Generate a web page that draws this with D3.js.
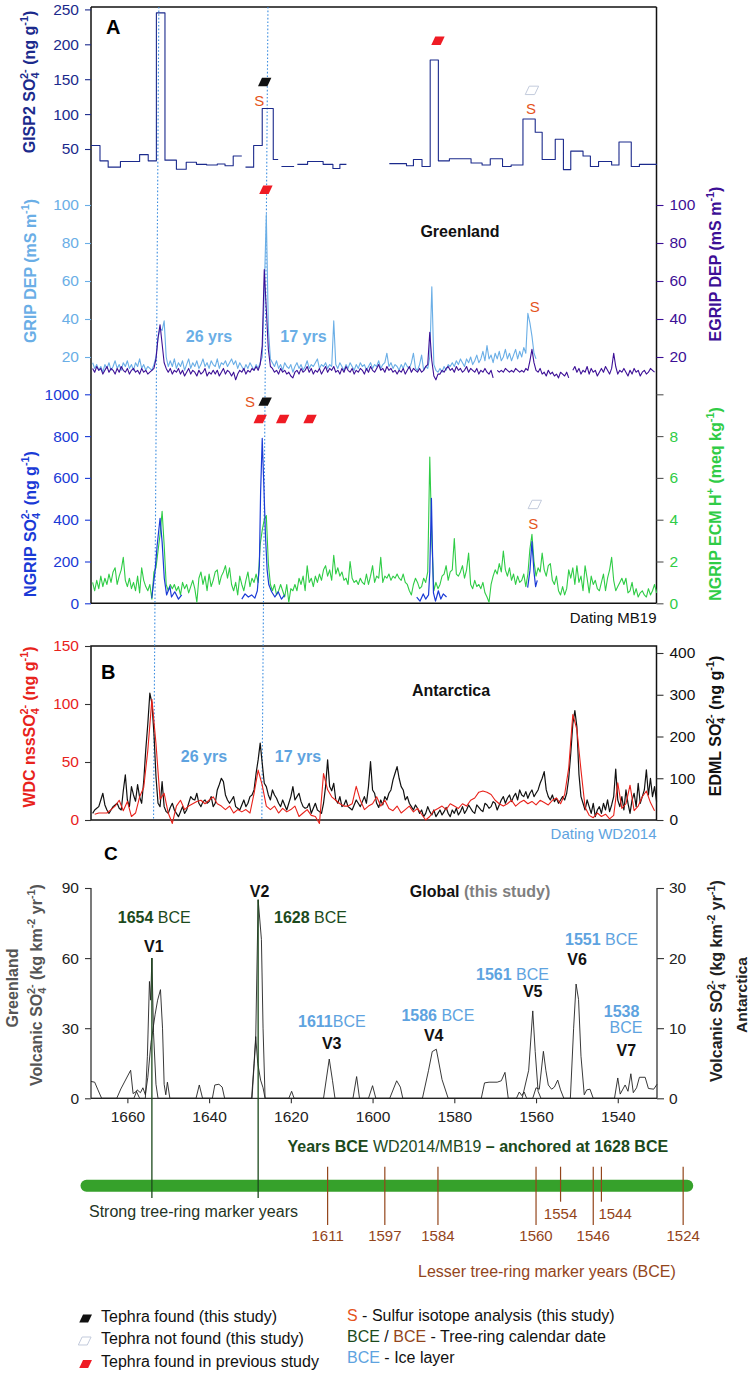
<!DOCTYPE html>
<html>
<head>
<meta charset="utf-8">
<script src="https://cdn.jsdelivr.net/npm/d3@7/dist/d3.min.js"></script>
<style>
html,body{margin:0;padding:0;background:#fff;}
svg{display:block;}
text{white-space:pre;}
</style>
</head>
<body>
<svg id="chart" width="751" height="1373" xmlns="http://www.w3.org/2000/svg"></svg>
<script>
// ================= DATA =================
const xTicksC = [1660,1640,1620,1600,1580,1560,1540];
const gisp2Ticks = [50,100,150,200,250];
const depTicks = [20,40,60,80,100];
const ngripTicks = [0,200,400,600,800,1000];
const ecmTicks = [0,2,4,6,8,10];
const ecmLabels = ["0","2","4","6","8",""];
const wdcTicks = [0,50,100,150];
const edmlTicks = [0,100,200,300,400];
const cLeftTicks = [0,30,60,90];
const cRightTicks = [0,10,20,30];

// GISP2 SO4 step bins: [startYear, endYear, value]; null = gap
const gisp2Bins = [
 [1668.9,1666.7,55],[1666.7,1664.7,33],[1664.7,1661.7,24],[1661.7,1657.0,32],[1657.0,1654.9,42],
 [1654.9,1652.9,33],[1652.9,1650.8,245],[1650.8,1648.0,34],[1648.0,1645.6,21],[1645.6,1643.1,31],
 [1643.1,1640.6,28],[1640.6,1638.0,27],[1638.0,1636.1,28.5],[1636.1,1634.1,26],[1634.1,1632.0,40],
 null,
 [1631.1,1629.1,24],[1629.1,1627.0,55],[1627.0,1624.3,108],[1624.3,1623.1,35],
 null,
 [1622.3,1619.2,25],
 null,
 [1618.4,1615.9,28],[1615.9,1612.1,32],[1612.1,1609.7,28],[1609.7,1608.0,22],[1608.0,1606.4,28],
 null,
 [1595.9,1591.7,29],[1591.7,1590.0,26],[1590.0,1587.9,35],[1587.9,1585.9,25],[1585.9,1583.9,177.5],
 [1583.9,1581.2,33],[1581.2,1575.9,36],[1575.9,1573.2,30],[1573.2,1571.2,27],[1571.2,1568.2,36],
 [1568.2,1566.1,25],[1566.1,1563.2,27],[1563.2,1560.2,93],[1560.2,1558.5,74],[1558.5,1555.3,35],
 [1555.3,1553.3,64],[1553.3,1551.5,20.5],[1551.5,1548.5,47],[1548.5,1546.7,40],[1546.7,1544.7,25],
 [1544.7,1541.5,32],[1541.5,1539.7,27],[1539.7,1536.7,60],[1536.7,1534.7,25],[1534.7,1530.4,28]
];

// half-year series, first value at 1668.5, stepping back 0.5 yr
const depStart = 1668.5, depStep = 0.5;
const gripDEP = [
 17,14,16,13,15,12,16,14,17,13,
 15,18,14,16,13,17,15,18,14,16,
 13,17,15,19,14,16,13,15,14,13,
 16,20,30,35,34,39,20,15,18,15,
 19,14,17,15,18,13,16,19,14,17,
 15,18,14,16,19,15,17,14,18,16,
 15,19,14,17,16,18,15,17,19,16,
 18,14,17,15,13,16,14,17,15,13,
 16,14,17,20,55,95,35,19,17,15,
 18,14,16,13,17,15,14,16,12,15,
 17,14,16,13,15,18,14,16,15,17,
 19,14,16,15,17,14,16,15,39,16,
 14,17,15,13,16,14,17,15,13,16,
 14,17,15,16,13,15,17,14,16,15,
 18,14,16,17,22,15,17,14,16,15,
 13,16,14,17,15,14,17,22,14,13,
 16,21,13,15,14,20,57,16,13,12,
 14,12,15,13,16,15,17,15,18,16,
 19,17,15,19,17,20,16,18,21,17,
 19,23,18,26,19,21,17,22,19,23,
 18,20,24,19,22,18,21,24,19,23,
 20,25,22,43,38,31,22,19
];
const egripDEP = [
 14,12,15,13,14,11,13,15,12,14,
 13,11,14,12,15,13,12,14,11,13,
 14,12,13,11,14,12,13,11,12,13,
 14,19,30,37,27,17,14,12,14,11,
 13,12,14,11,13,10,12,14,11,13,
 12,10,13,11,12,14,10,12,11,13,
 11,13,10,12,14,11,13,12,10,12,
 8,11,13,12,14,11,13,12,14,13,
 15,13,16,26,66,45,24,15,14,12,
 13,11,14,12,13,11,12,10,9,12,
 13,11,14,12,13,15,12,14,11,13,
 12,14,11,13,15,12,14,13,15,12,
 13,11,14,12,15,13,12,14,11,13,
 12,14,13,11,14,12,15,13,12,14,
 16,13,14,12,15,13,14,12,13,11,
 13,12,14,11,13,15,12,14,13,12,
 14,12,13,15,16,33,18,10,8,11,
 11,13,12,14,15,13,14,12,15,13,
 14,12,13,15,12,14,13,12,14,11,
 13,12,14,12,11,13,9,null,13,12,
 13,12,14,13,12,13,12,14,13,12,
 13,12,14,13,18,24,17,13,12,14,
 11,12,10,13,11,12,10,11,9,12,
 11,10,12,9,null,13,15,12,14,11,
 13,12,15,11,14,12,13,10,12,14,
 12,15,13,11,14,22,15,11,13,12,
 14,12,10,13,11,14,12,13,10,12,
 13,11,12,14,13,12
];
const ecmH = [
 1.0,0.6,1.1,0.7,1.3,0.8,1.2,0.9,1.4,1.0,
 1.5,1.7,0.9,1.3,1.6,2.2,1.1,0.8,1.2,0.7,
 1.0,0.6,1.3,0.5,1.7,1.1,0.8,0.6,0.9,0.2,
 1.5,1.7,2.5,3.3,4.4,2.8,0.9,0.6,0.9,0.7,
 0.9,0.6,0.8,0.4,1.0,0.7,0.9,0.5,0.8,1.1,
 0.7,0.05,1.2,1.5,0.9,1.3,0.6,1.4,0.8,1.1,
 1.5,1.6,0.9,1.3,1.5,1.8,1.2,1.7,0.9,0.6,
 1.0,0.4,1.3,0.9,0.6,1.1,1.5,0.8,1.2,1.0,
 1.4,1.0,2.8,3.5,4.0,4.2,1.9,0.9,0.6,0.9,
 0.4,0.6,0.9,0.6,0.3,0.9,0.05,0.7,0.6,0.9,
 0.6,1.2,0.9,1.3,0.6,1.8,1.0,1.2,0.8,1.3,
 1.0,1.4,1.1,1.6,1.8,1.3,1.6,1.1,2.3,1.4,
 1.7,1.3,1.5,1.1,1.2,0.9,2.0,1.2,1.0,1.1,
 0.9,1.2,1.0,0.9,1.4,0.9,1.3,1.8,1.0,1.3,
 1.2,2.2,1.0,1.3,1.2,1.4,1.1,1.3,1.2,1.4,
 1.2,1.1,1.4,1.0,0.9,0.6,0.4,0.9,1.2,1.0,
 0.7,0.8,1.2,1.0,1.5,7.0,3.0,0.6,1.0,0.7,
 0.9,1.3,1.4,1.8,1.1,1.5,1.6,3.1,1.4,1.3,
 1.5,1.8,1.2,1.6,2.4,0.9,0.7,1.1,0.8,0.9,
 0.7,1.0,0.5,0.3,0.05,0.9,1.3,1.6,1.4,1.9,
 1.5,2.5,1.6,1.3,1.7,1.1,1.4,0.9,1.3,1.0,
 1.1,1.4,0.8,1.4,2.6,3.3,2.0,1.3,1.7,1.5,
 2.4,1.6,1.3,1.8,1.9,1.1,0.9,1.3,0.6,0.4,
 0.8,0.4,0.7,1.6,1.2,1.7,0.9,1.8,1.0,1.3,
 0.6,1.8,1.2,0.5,1.3,0.9,1.1,0.7,0.6,1.0,
 1.4,0.6,1.2,1.6,2.2,1.1,0.6,0.8,1.0,1.2,
 0.9,1.2,0.5,0.6,1.0,0.4,0.7,0.3,0.5,0.6,
 0.4,0.3,0.7,0.4,0.6,0.9,0.5
];
// NGRIP SO4 (irregular, short sections): [year, value]; null = gap
const ngripSO4 = [
 [1654.05,24],[1653.24,151],[1652.7,279],[1652.0,407],[1651.5,295],[1650.97,120],[1650.4,40],
 [1649.6,80],[1649.2,30],[1648.4,55],[1647.5,20],[1646.7,40],
 null,
 [1632.0,20],[1631.2,45],[1630.4,30],[1629.6,40],[1628.8,25],[1628.2,60],[1627.7,180],[1627.4,530],
 [1627.0,789],[1626.6,560],[1626.2,320],[1625.8,160],[1625.4,90],[1624.7,55],[1623.9,30],
 [1623.1,55],[1622.3,20],[1621.5,40],
 null,
 [1589.2,30],[1588.4,10],[1587.6,45],[1587.0,20],[1586.3,40],[1586.0,150],[1585.6,502],
 [1585.4,300],[1585.1,50],[1584.6,10],[1583.9,60],[1583.3,20],[1582.7,45],[1581.9,30],
 null,
 [1562.05,75],[1561.5,155],[1561.0,295],[1560.5,150],[1560.1,80],[1559.7,110]
];
const edmlSO4 = [
 16,24,28,32,48,64,36,24,16,24,
 32,36,40,28,24,70,108,48,32,80,
 60,45,85,55,40,93,168,230,304,280,
 208,104,40,32,92,32,20,16,30,40,
 24,16,8,20,32,16,24,40,56,50,
 48,64,40,32,44,48,40,44,56,32,
 40,72,85,100,92,60,48,40,48,56,
 32,28,24,36,48,32,40,56,60,72,
 112,144,184,136,88,80,60,48,72,60,
 52,40,32,48,36,24,40,56,80,48,
 56,64,44,32,28,30,40,16,28,40,
 24,20,16,40,80,144,80,70,88,48,
 40,56,32,36,48,32,28,24,36,48,
 40,32,44,56,40,80,140,72,64,40,
 30,48,36,56,48,64,72,96,112,128,
 100,80,72,48,56,40,32,24,36,28,
 16,24,8,16,32,20,12,24,8,16,
 24,12,20,30,16,8,24,16,28,12,
 20,32,16,24,36,28,20,16,36,30,
 24,20,40,36,28,32,44,40,24,36,
 48,56,40,52,60,44,56,64,48,72,
 60,56,68,52,64,72,56,64,72,88,
 100,116,72,56,48,60,44,52,40,48,
 56,48,64,100,160,230,262,223,110,56,
 40,24,48,32,16,40,8,24,32,16,
 40,24,48,20,36,56,122,48,32,56,
 24,72,40,16,48,64,32,88,40,56,
 72,120,60,100,56,80,44
];
// yearly series, first value at 1668
const wdcStart = 1668, wdcStep = 1;
const wdcSO4 = [
 5,6,6,6,9,12,17,8,16,3,
 6,20,28,60,104,66,18,23,6,-3,
 12,17,9,12,14,16,17,14,17,20,
 14,12,9,12,6,9,7,9,6,23,
 43,30,12,9,12,6,10,7,9,12,
 3,6,9,4,3,-3,40,26,20,17,
 14,12,12,14,29,17,9,12,14,20,
 12,17,10,8,12,6,9,12,7,10,
 5,0,3,8,10,12,9,14,12,10,
 14,12,17,19,24,25,24,22,17,14,
 12,14,17,12,15,17,14,16,13,17,
 15,13,17,19,14,22,45,91,78,43,
 11,4,2,6,3,5,1,4,32,10,
 14,30,8,12,20,25,15,8
];
// Panel C volcanic sulfate flux [year, value]
const greenlandFlux = [
 [1668.9,0],[1662.6,0],[1661.6,4],[1659.2,12],[1658.6,2],[1657.8,3],[1657,0],
 [1655.6,0],[1655.1,18],[1654.6,50],[1654.3,42],[1654,60],[1653.6,28],[1653,6],[1652.5,0],
 [1629.5,0],[1628.6,25],[1628,85],[1627.2,68],[1626.8,30],[1626.3,0],
 [1620.5,0],[1619.8,3],[1619.2,0],
 [1587.8,0],[1586.3,12],[1585.4,20],[1584.4,21],[1583,8],[1581.5,0],
 [1563.4,0],[1561.8,12],[1560.8,37.4],[1560.2,20],[1559.5,3],[1558.8,0],[1530.4,0]
];
const antarcticaFlux = [
 [1668.9,2.4],[1668,2.3],[1667.2,1.2],[1666.3,0],
 [1658.4,0],[1657.6,1.2],[1656.8,0.8],[1656.2,1.5],[1655.6,0.5],[1655,3],[1654.2,8],[1653.2,12],
 [1652.6,14],[1651.9,15.5],[1651.4,10],[1651,2],[1650.6,0.5],[1650.2,2.3],[1649.6,0],
 [1643.2,0],[1642.4,1.9],[1641.6,0],
 [1639.2,0],[1638.6,1.9],[1637.6,2.0],[1636.8,1.6],[1636.2,0],
 [1629.6,0],[1629,5],[1628.6,8.8],[1628.1,5],[1627.4,2.6],[1626.8,1.5],[1626.3,0],
 [1612,0],[1610.6,5.6],[1609.8,2.5],[1609.2,0],
 [1604.8,0],[1603.9,3.1],[1603.2,0],
 [1601,0],[1600,1.8],[1599.2,0],
 [1595.8,0],[1594.1,2.5],[1593.2,1.6],[1592.6,0],
 [1573.4,0],[1572.6,2.2],[1571.5,2.3],[1569.5,2.3],[1568.5,2.5],[1567.6,3.7],[1566.8,0],
 [1564.8,0],[1564.1,0.9],[1563.5,0.4],[1562.9,0.9],[1562.3,0],
 [1560.8,0],[1560,1.5],[1559.2,1.3],[1558.2,6.7],[1557.6,4],[1557,1.9],[1556.2,1.3],[1555.5,1.6],
 [1554.7,2.6],[1554,1.2],[1553.2,0],
 [1551.6,0],[1550.8,10],[1550.2,16.3],[1549.6,14.1],[1549,6],[1548.2,0.5],[1547.6,1.2],[1546.8,1.3],[1546,0],
 [1540.8,0],[1540,2.9],[1539.4,0.6],[1538.2,1.9],[1537.5,1],[1536.8,3.5],[1536.2,0.8],[1535.4,1.5],
 [1534.7,3],[1533.3,3],[1532.5,1.4],[1531.2,1.3],[1530.4,2]
];
const strongYears = [1654, 1628];
const strongPeaks = [60, 85];
const lesserYears = [1611,1597,1584,1560,1554,1546,1544,1524];
const lesserShort = [false,false,false,false,true,false,true,false];
const tieTop = [1652.3, 1625.6];
const tieBottom = [1653.6, 1627.1];
const timelineYears = [1670, 1523];
// tephra markers: [record, year, value, kind]
const tephra = [
 ["gisp2",1626.4,146,"found"],["gisp2",1584.0,205,"previous"],["gisp2",1561.0,134,"notfound"],
 ["dep",1626.1,108,"previous"],
 ["ngrip",1626.3,965,"found"],["ngrip",1627.5,882,"previous"],["ngrip",1622.0,882,"previous"],
 ["ngrip",1615.3,882,"previous"],["ngrip",1560.3,473,"notfound"]
];
// sulfur isotope analysis marks: [record, year, value]
const sulfur = [
 ["gisp2",1627.7,120],["gisp2",1561.2,108],["dep",1560.3,46.5],["ngrip",1630.0,965],["ngrip",1560.7,383]
];

// ================= DRAWING =================
const F = "'Liberation Sans', Arial, Helvetica, sans-serif";
const FN = "'Liberation Sans Narrow', 'Arial Narrow', 'Liberation Sans', Arial, sans-serif";
const C = {
  navy:'#1b2a8c', grip:'#6aaee6', egrip:'#3c0f96', ngrip:'#1a3ad6', ecm:'#2fcc46',
  wdc:'#e8221b', ice:'#5ea3e0', tie:'#3d8ee0', s:'#e5541d', red:'#ef1b24',
  dgreen:'#1c4a1c', bar:'#36a12b', brown:'#93451b', gray:'#555'
};
const svg = d3.select('#chart');
svg.append('rect').attr('width',751).attr('height',1373).attr('fill','#fff');

const x = d3.scaleLinear().domain([1668.9,1530.4]).range([91,657]);
const yGisp = d3.scaleLinear().domain([0,250]).range([183.9,9.4]);
const yDep = d3.scaleLinear().domain([0,100]).range([395,205]);
const yNg = d3.scaleLinear().domain([0,1000]).range([603.3,394.3]);
const yEcm = d3.scaleLinear().domain([0,10]).range([603.3,394.3]);
const yWdc = d3.scaleLinear().domain([0,150]).range([820,646]);
const yEdml = d3.scaleLinear().domain([0,400]).range([820,653]);
const yCg = d3.scaleLinear().domain([0,90]).range([1098.3,888]);
const yCa = d3.scaleLinear().domain([0,30]).range([1098.3,888]);
const recScale = {gisp2:yGisp, dep:yDep, ngrip:yNg};
const fmt = d3.format('d');

const L = 91, R = 656.5;

function rich(parent, px, py, parts, o) {
  const t = parent.append('text').attr('x', px).attr('y', py)
    .attr('font-family', o.family || F).attr('font-size', o.size)
    .attr('font-weight', o.weight || 'normal').attr('fill', o.fill || '#000')
    .attr('text-anchor', o.anchor || 'start');
  if (o.rotate) t.attr('transform', `rotate(${o.rotate},${px},${py})`);
  let shift = 0;
  parts.forEach(p => {
    const str = p[0], kind = p[1] || '', ex = p[2] || {};
    let target = 0, fs = null;
    if (kind === 'sub') { target = 0.28 * o.size; fs = 0.68 * o.size; }
    if (kind === 'sup') { target = -0.42 * o.size; fs = 0.68 * o.size; }
    const ts = t.append('tspan').text(str);
    if (target - shift !== 0) ts.attr('dy', (target - shift).toFixed(2));
    shift = target;
    if (fs) ts.attr('font-size', fs);
    for (const k in ex) ts.attr(k, ex[k]);
  });
  return t;
}
function styleAxis(g, color, tickColor, fam, fs) {
  g.select('.domain').remove();
  g.selectAll('.tick line').attr('stroke', tickColor).attr('stroke-width', 1.1);
  g.selectAll('.tick text').attr('fill', color).attr('font-family', fam || FN).attr('font-size', fs || 15.5);
}
function path(data, ys, color, w) {
  svg.append('path').datum(data)
    .attr('d', d3.line().defined(d => d && d[1] != null).x(d => x(d[0])).y(d => ys(d[1])))
    .attr('fill', 'none').attr('stroke', color).attr('stroke-width', w)
    .attr('stroke-linejoin', 'round');
}
const grid = (start, step, vals) => vals.map((v, i) => [start - step * i, v]);
function para(g, cx, cy, kind, s) {
  s = s || 1;
  const pts = [[cx-6.7*s,cy+4.2*s],[cx+2.7*s,cy+4.2*s],[cx+6.7*s,cy-4.2*s],[cx-2.7*s,cy-4.2*s]];
  const fill = kind === 'found' ? '#111' : kind === 'previous' ? C.red : '#fff';
  g.append('polygon').attr('points', pts.map(p => p.join(',')).join(' '))
    .attr('fill', fill).attr('stroke', kind === 'notfound' ? '#c3cbdc' : 'none').attr('stroke-width', 1);
}

// ---------- Panel A frame & axes ----------
const frame = svg.append('g').attr('stroke', '#111').attr('stroke-width', 1.5).attr('fill', 'none');
frame.append('line').attr('x1', L).attr('x2', R).attr('y1', 7).attr('y2', 7);
frame.append('line').attr('x1', L).attr('x2', L).attr('y1', 7).attr('y2', yNg(0));
frame.append('line').attr('x1', R).attr('x2', R).attr('y1', 7).attr('y2', yNg(0));
frame.append('line').attr('x1', L).attr('x2', R).attr('y1', yNg(0)).attr('y2', yNg(0));
// Panel B frame
frame.append('rect').attr('x', L).attr('y', yWdc(150)).attr('width', R - L).attr('height', yWdc(0) - yWdc(150));
// Panel C frame
const fc = svg.append('g').attr('stroke', '#333').attr('stroke-width', 1.3);
fc.append('line').attr('x1', x.range()[0]).attr('x2', x.range()[0]).attr('y1', yCg(90)).attr('y2', yCg(0));
fc.append('line').attr('x1', x.range()[1]).attr('x2', x.range()[1]).attr('y1', yCg(90)).attr('y2', yCg(0));
fc.append('line').attr('x1', x.range()[0]).attr('x2', x.range()[1]).attr('y1', yCg(0)).attr('y2', yCg(0));

svg.append('g').attr('transform', `translate(${L},0)`)
  .call(d3.axisLeft(yGisp).tickValues(gisp2Ticks).tickSize(6).tickPadding(6).tickFormat(fmt))
  .call(styleAxis, C.navy, C.navy);
svg.append('g').attr('transform', `translate(${L},0)`)
  .call(d3.axisLeft(yDep).tickValues(depTicks).tickSize(6).tickPadding(6).tickFormat(fmt))
  .call(styleAxis, C.grip, C.grip);
svg.append('g').attr('transform', `translate(${R},0)`)
  .call(d3.axisRight(yDep).tickValues(depTicks).tickSize(7).tickPadding(6).tickFormat(fmt))
  .call(styleAxis, C.egrip, C.egrip);
svg.append('g').attr('transform', `translate(${L},0)`)
  .call(d3.axisLeft(yNg).tickValues(ngripTicks).tickSize(6).tickPadding(6).tickFormat(fmt))
  .call(styleAxis, C.ngrip, C.ngrip);
svg.append('g').attr('transform', `translate(${R},0)`)
  .call(d3.axisRight(yEcm).tickValues(ecmTicks).tickSize(7).tickPadding(6).tickFormat((d, i) => ecmLabels[i]))
  .call(styleAxis, C.ecm, '#555');
// Panel B axes
svg.append('g').attr('transform', `translate(${L},0)`)
  .call(d3.axisLeft(yWdc).tickValues(wdcTicks).tickSize(6).tickPadding(6).tickFormat(fmt))
  .call(styleAxis, C.wdc, '#333');
svg.append('g').attr('transform', `translate(${R},0)`)
  .call(d3.axisRight(yEdml).tickValues(edmlTicks).tickSize(7).tickPadding(6).tickFormat(fmt))
  .call(styleAxis, '#111', '#333');
// Panel C axes
svg.append('g').attr('transform', `translate(${x.range()[0]},0)`)
  .call(d3.axisLeft(yCg).tickValues(cLeftTicks).tickSize(6).tickPadding(6).tickFormat(fmt))
  .call(styleAxis, '#222', '#333');
svg.append('g').attr('transform', `translate(${x.range()[1]},0)`)
  .call(d3.axisRight(yCa).tickValues(cRightTicks).tickSize(7).tickPadding(5).tickFormat(fmt))
  .call(styleAxis, '#222', '#333');
svg.append('g').attr('transform', `translate(0,${yCg(0)})`)
  .call(d3.axisBottom(x).tickValues(xTicksC).tickSize(5).tickPadding(8).tickFormat(fmt))
  .call(styleAxis, '#222', '#333');

// ---------- tie lines ----------
tieTop.forEach((t, i) => {
  svg.append('line').attr('x1', x(t)).attr('y1', 7).attr('x2', x(tieBottom[i])).attr('y2', yWdc(0))
    .attr('stroke', C.tie).attr('stroke-width', 1.1).attr('stroke-dasharray', '1.6,2');
});

// ---------- Panel A series ----------
const gPts = [];
gisp2Bins.forEach(b => { if (b === null) { gPts.push(null); return; } gPts.push([b[0], b[2]], [b[1], b[2]]); });
path(gPts, yGisp, C.navy, 1.1);
path(grid(depStart, depStep, gripDEP), yDep, C.grip, 1.1);
path(grid(depStart, depStep, egripDEP), yDep, C.egrip, 1.1);
path(grid(depStart, depStep, ecmH), yEcm, C.ecm, 1.1);
path(ngripSO4, yNg, C.ngrip, 1.2);

// ---------- Panel B series ----------
path(grid(depStart, depStep, edmlSO4), yEdml, '#111', 1.2);
path(grid(wdcStart, wdcStep, wdcSO4), yWdc, C.wdc, 1.1);

// ---------- Panel C series ----------
path(greenlandFlux, yCg, '#222', 0.9);
path(antarcticaFlux, yCa, '#222', 0.9);

// ---------- tephra & S marks ----------
const mk = svg.append('g');
tephra.forEach(t => para(mk, x(t[1]), recScale[t[0]](t[2]), t[3]));
sulfur.forEach(s => {
  svg.append('text').attr('x', x(s[1])).attr('y', recScale[s[0]](s[2])).attr('dy', '0.36em')
    .attr('text-anchor', 'middle').attr('font-family', F).attr('font-size', 15).attr('fill', C.s).text('S');
});

// ---------- Timeline ----------
svg.append('line').attr('x1', x(timelineYears[0])).attr('x2', x(timelineYears[1]))
  .attr('y1', 1185.7).attr('y2', 1185.7).attr('stroke', C.bar).attr('stroke-width', 12).attr('stroke-linecap', 'round');
strongYears.forEach((yr, i) => {
  svg.append('line').attr('x1', x(yr)).attr('x2', x(yr)).attr('y1', yCg(strongPeaks[i])).attr('y2', 1198)
    .attr('stroke', C.dgreen).attr('stroke-width', 1.3);
});
lesserYears.forEach((yr, i) => {
  const yEnd = lesserShort[i] ? 1201.7 : 1225;
  svg.append('line').attr('x1', x(yr)).attr('x2', x(yr)).attr('y1', 1166.7).attr('y2', yEnd)
    .attr('stroke', C.brown).attr('stroke-width', 1.2);
  const lab = svg.append('text').attr('font-family', F).attr('font-size', 15).attr('fill', C.brown).text(yr);
  if (yr === 1544) lab.attr('x', x(yr) - 3).attr('y', 1218.5).attr('text-anchor', 'start');
  else lab.attr('x', x(yr)).attr('y', lesserShort[i] ? 1218.5 : 1241).attr('text-anchor', 'middle');
});

// ---------- Text labels ----------
const T = svg.append('g');
const S16 = 16;
// panel letters
T.append('text').attr('x', 106).attr('y', 34).attr('font-family', F).attr('font-weight', 'bold').attr('font-size', 20).text('A');
T.append('text').attr('x', 101).attr('y', 679).attr('font-family', F).attr('font-weight', 'bold').attr('font-size', 20).text('B');
T.append('text').attr('x', 104).attr('y', 860).attr('font-family', F).attr('font-weight', 'bold').attr('font-size', 19).text('C');

// Axis titles panel A
const so4 = (pre, size) => [[pre], ['4', 'sub'], ['2-', 'sup', {dx: -0.4 * size}]];
rich(T, 35, 82, [...so4('GISP2 SO', S16), [' (ng g'], ['-1', 'sup'], [')']], {size: S16, weight: 'bold', fill: C.navy, anchor: 'middle', rotate: -90});
rich(T, 36, 271, [['GRIP DEP (mS m'], ['-1', 'sup'], [')']], {size: S16, weight: 'bold', fill: C.grip, anchor: 'middle', rotate: -90});
rich(T, 721, 264, [['EGRIP DEP (mS m'], ['-1', 'sup'], [')']], {size: S16, weight: 'bold', fill: C.egrip, anchor: 'middle', rotate: -90});
rich(T, 36, 524, [...so4('NGRIP SO', S16), [' (ng g'], ['-1', 'sup'], [')']], {size: S16, weight: 'bold', fill: C.ngrip, anchor: 'middle', rotate: -90});
rich(T, 721, 504, [['NGRIP ECM H'], ['+', 'sup'], [' (meq kg'], ['-1', 'sup'], [')']], {size: S16, weight: 'bold', fill: C.ecm, anchor: 'middle', rotate: -90});
rich(T, 35, 727, [...so4('WDC nssSO', S16), [' (ng g'], ['-1', 'sup'], [')']], {size: S16, weight: 'bold', fill: C.wdc, anchor: 'middle', rotate: -90});
rich(T, 721, 726, [...so4('EDML SO', S16), [' (ng g'], ['-1', 'sup'], [')']], {size: S16, weight: 'bold', fill: '#111', anchor: 'middle', rotate: -90});
// Panel C titles
T.append('text').attr('x', 18).attr('y', 988).attr('transform', 'rotate(-90,18,988)').attr('text-anchor', 'middle')
  .attr('font-family', F).attr('font-weight', 'bold').attr('font-size', S16).attr('fill', C.gray).text('Greenland');
rich(T, 42, 985, [...so4('Volcanic SO', S16), [' (kg km'], ['-2', 'sup'], [' yr'], ['-1', 'sup'], [')']], {size: S16, weight: 'bold', fill: C.gray, anchor: 'middle', rotate: -90});
rich(T, 722, 981, [...so4('Volcanic SO', S16), [' (kg km'], ['-2', 'sup'], [' yr'], ['-1', 'sup'], [')']], {size: S16, weight: 'bold', fill: '#222', anchor: 'middle', rotate: -90});
T.append('text').attr('x', 746.5).attr('y', 995).attr('transform', 'rotate(-90,746.5,995)').attr('text-anchor', 'middle')
  .attr('font-family', F).attr('font-weight', 'bold').attr('font-size', 15.5).attr('fill', '#222').text('Antarctica');

// In-plot annotations
const bold = (t, px, py, txt, fill, anchor, size) => t.append('text').attr('x', px).attr('y', py)
  .attr('font-family', F).attr('font-weight', 'bold').attr('font-size', size || S16).attr('fill', fill || '#111')
  .attr('text-anchor', anchor || 'middle').text(txt);
bold(T, 460, 237.3, 'Greenland');
bold(T, 209, 342.3, '26 yrs', C.grip);
bold(T, 303.4, 342.3, '17 yrs', C.grip);
T.append('text').attr('x', R).attr('y', 622.5).attr('text-anchor', 'end').attr('font-family', F).attr('font-size', 15).attr('fill', '#111').text('Dating MB19');
bold(T, 451, 695.6, 'Antarctica');
bold(T, 204, 761.6, '26 yrs', C.ice);
bold(T, 298, 761.6, '17 yrs', C.ice);
T.append('text').attr('x', R).attr('y', 839).attr('text-anchor', 'end').attr('font-family', F).attr('font-size', 15).attr('fill', C.ice).text('Dating WD2014');

// Panel C annotations
rich(T, 480, 897.3, [['Global'], [' (this study)', '', {fill: '#7f7f7f'}]], {size: S16, weight: 'bold', fill: '#111', anchor: 'middle'});
bold(T, 259.6, 897.3, 'V2');
bold(T, 153.8, 952.3, 'V1');
bold(T, 577, 964.9, 'V6');
bold(T, 532.7, 997.3, 'V5');
bold(T, 433.7, 1040.6, 'V4');
bold(T, 331.7, 1048.9, 'V3');
bold(T, 626.4, 1055.6, 'V7');
const dateLab = (px, py, yr, rest, fill, anchor) => rich(T, px, py, [[yr, '', {'font-weight': 'bold'}], [rest]], {size: S16, fill: fill, anchor: anchor || 'start'});
dateLab(274, 922.9, '1628', ' BCE', C.dgreen);
dateLab(117.8, 922.9, '1654', ' BCE', C.dgreen);
dateLab(565, 944.9, '1551', ' BCE', C.ice);
dateLab(476, 979.6, '1561', ' BCE', C.ice);
dateLab(401.4, 1020.6, '1586', ' BCE', C.ice);
dateLab(298, 1026.6, '1611', 'BCE', C.ice);
bold(T, 621.6, 1017.3, '1538', C.ice);
T.append('text').attr('x', 626).attr('y', 1032.9).attr('text-anchor', 'middle').attr('font-family', F).attr('font-size', S16).attr('fill', C.ice).text('BCE');

// Timeline labels
rich(T, 287.5, 1151.6, [['Years BCE', '', {'font-weight': 'bold'}], [' WD2014/MB19 '], ['– anchored at 1628 BCE', '', {'font-weight': 'bold'}]], {size: S16, fill: C.dgreen});
T.append('text').attr('x', 89).attr('y', 1216.6).attr('font-family', F).attr('font-size', S16).attr('fill', '#243424').text('Strong tree-ring marker years');
T.append('text').attr('x', 418).attr('y', 1277.3).attr('font-family', F).attr('font-size', S16).attr('fill', C.brown).text('Lesser tree-ring marker years (BCE)');

// ---------- Legend ----------
const lg = svg.append('g');
para(lg, 85.6, 1318.5, 'found', 0.95);
para(lg, 84.7, 1341, 'notfound', 0.95);
para(lg, 85.6, 1364, 'previous', 0.95);
const lt = (px, py, txt) => lg.append('text').attr('x', px).attr('y', py).attr('font-family', F).attr('font-size', S16).attr('fill', '#111').text(txt);
lt(101, 1322.2, 'Tephra found (this study)');
lt(101, 1343.8, 'Tephra not found (this study)');
lt(101, 1367.2, 'Tephra found in previous study');
rich(lg, 347, 1320.5, [['S', '', {fill: C.s}], [' - Sulfur isotope analysis (this study)']], {size: S16, fill: '#111'});
rich(lg, 347, 1342.2, [['BCE', '', {fill: C.dgreen}], [' / '], ['BCE', '', {fill: C.brown}], [' - Tree-ring calendar date']], {size: S16, fill: '#111'});
rich(lg, 347, 1363.2, [['BCE', '', {fill: C.ice}], [' - Ice layer']], {size: S16, fill: '#111'});
</script>
</body>
</html>
